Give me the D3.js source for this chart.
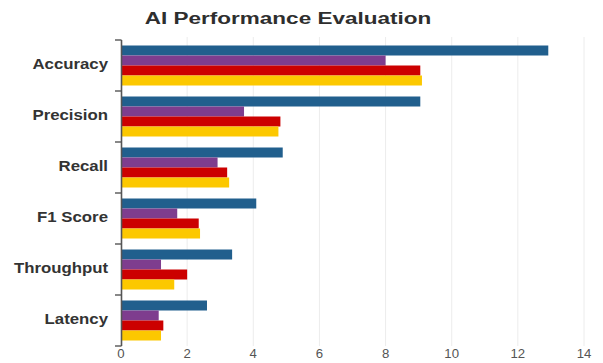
<!DOCTYPE html>
<html>
<head>
<meta charset="utf-8">
<script src="https://cdn.jsdelivr.net/npm/d3@7"></script>
<style>
  html, body { margin: 0; padding: 0; background: #fff; }
  svg { display: block; }
</style>
</head>
<body>
<svg id="chart" width="603" height="363"></svg>
<script>
// Metrics shown on the vertical axis (top to bottom)
const categories = ["Accuracy", "Precision", "Recall", "F1 Score", "Throughput", "Latency"];
// Four model series, one value per metric
const seriesNames = ["Model A", "Model B", "Model C", "Model D"];
const modelA = [12.92, 9.05, 4.89, 4.09, 3.36, 2.60];
const modelB = [8.0, 3.72, 2.92, 1.70, 1.21, 1.14];
const modelC = [9.05, 4.82, 3.21, 2.35, 2.0, 1.28];
const modelD = [9.1, 4.76, 3.27, 2.39, 1.61, 1.21];
const seriesValues = [modelA, modelB, modelC, modelD];
const seriesColors = ["#215f8d", "#7e3d8e", "#cc0000", "#fcc800"];
const xTicks = [0, 2, 4, 6, 8, 10, 12, 14];
const title = "AI Performance Evaluation";

const svg = d3.select("#chart");
const plotLeft = 121, plotRight = 584, plotTop = 40, plotBottom = 346;

const x = d3.scaleLinear().domain([0, 14]).range([plotLeft, plotRight]);
const y = d3.scaleBand().domain(categories).range([plotTop, plotBottom]).padding(0);
const yInner = d3.scaleBand().domain(seriesNames)
  .range([0, y.bandwidth()]).paddingInner(0).paddingOuter(0.55);

// Vertical gridlines
svg.append("g").selectAll("line").data(xTicks.slice(1)).join("line")
  .attr("x1", d => x(d)).attr("x2", d => x(d))
  .attr("y1", plotTop - 3).attr("y2", plotBottom)
  .attr("stroke", "#ececec").attr("stroke-width", 1);

// Bars
const rows = categories.map((c, i) => ({
  cat: c,
  vals: seriesNames.map((s, j) => ({ s, v: seriesValues[j][i], color: seriesColors[j] }))
}));
svg.append("g").selectAll("g").data(rows).join("g")
  .attr("transform", d => `translate(0,${y(d.cat)})`)
  .selectAll("rect").data(d => d.vals).join("rect")
  .attr("x", x(0))
  .attr("y", d => yInner(d.s))
  .attr("height", yInner.bandwidth())
  .attr("width", d => x(d.v) - x(0))
  .attr("fill", d => d.color);

// Y axis: line with ticks at category boundaries
const boundaries = d3.range(categories.length + 1).map(i => plotTop + i * y.step());
const yAxis = svg.append("g");
yAxis.append("line")
  .attr("x1", x(0) + 0.5).attr("x2", x(0) + 0.5)
  .attr("y1", plotTop).attr("y2", plotBottom)
  .attr("stroke", "#555").attr("stroke-width", 1.6);
yAxis.selectAll("line.tick").data(boundaries).join("line")
  .attr("class", "tick")
  .attr("x1", x(0) - 6).attr("x2", x(0) + 0.5)
  .attr("y1", d => d).attr("y2", d => d)
  .attr("stroke", "#555").attr("stroke-width", 1.4);

// Category labels
yAxis.selectAll("text").data(categories).join("text")
  .attr("transform", d => `translate(108,${y(d) + y.bandwidth() / 2 + 3.5}) scale(1.12,1)`)
  .attr("text-anchor", "end")
  .attr("font-family", "Liberation Sans, Arial, sans-serif")
  .attr("font-weight", "bold")
  .attr("font-size", 15)
  .attr("fill", "#333")
  .text(d => d);

// X tick labels
svg.append("g").selectAll("text").data(xTicks).join("text")
  .attr("transform", d => `translate(${x(d)},358) scale(1.1,1)`)
  .attr("text-anchor", "middle")
  .attr("font-family", "Liberation Sans, Arial, sans-serif")
  .attr("font-size", 12)
  .attr("fill", "#555")
  .text(d => d);

// Title
svg.append("text")
  .attr("transform", "translate(288,23.5) scale(1.34,1)")
  .attr("text-anchor", "middle")
  .attr("font-family", "Liberation Sans, Arial, sans-serif")
  .attr("font-weight", "bold")
  .attr("font-size", 16.8)
  .attr("fill", "#2e2e2e")
  .text(title);
</script>
</body>
</html>
